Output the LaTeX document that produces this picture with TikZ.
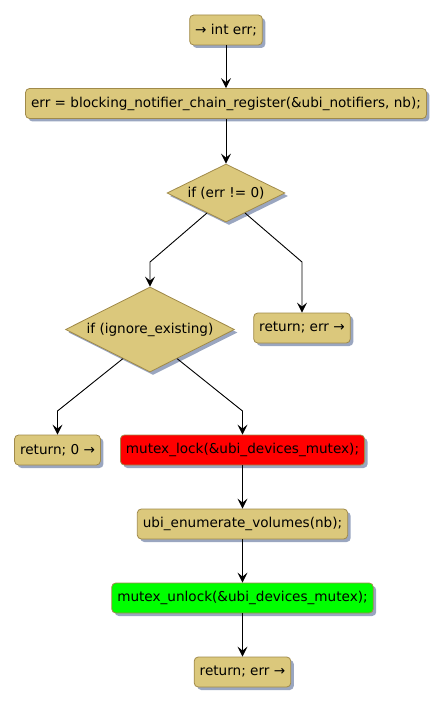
\documentclass[tikz,border=0pt]{standalone}
\usepackage{fontspec}
\setmainfont{DejaVu Sans}
\usetikzlibrary{shapes.geometric,arrows.meta,shadows,calc}
\definecolor{boxfill}{HTML}{DBC87C}
\definecolor{boxline}{HTML}{A08A4A}
\definecolor{shade}{HTML}{9AA6C0}
\tikzset{
  base/.style={draw=boxline, line width=0.8pt, fill=boxfill, font=\fontsize{13.6}{15}\selectfont, text=black,
    drop shadow={shadow xshift=3pt, shadow yshift=-3pt, fill=shade, opacity=1}},
  stepbox/.style={base, rounded corners=4pt, minimum height=30pt, inner xsep=5.5pt, inner ysep=0pt},
  cond/.style={base, diamond, aspect=2, inner sep=0pt},
  conn/.style={draw=black, line width=0.9pt, -{Stealth[length=10pt,width=10pt,inset=4pt]}},
}
\begin{document}
\begin{tikzpicture}[x=1pt,y=-1pt]
\useasboundingbox (0,0) rectangle (445,706);
\node[stepbox] (n1) at (226,30) {→ int err;};
\node[stepbox] (n2) at (226,103.5) {err = blocking\_notifier\_chain\_register(\&ubi\_notifiers, nb);};
\node[cond, minimum width=118pt, minimum height=58pt] (d1) at (226,193) {if (err != 0)};
\node[stepbox] (r1) at (302,328) {return; err →};
\node[cond, minimum width=169pt, minimum height=85pt] (d2) at (150,329.5) {if (ignore\_existing)};
\node[stepbox] (r0) at (57.5,450) {return; 0 →};
\node[stepbox, fill=red] (lock) at (242.5,450) {mutex\_lock(\&ubi\_devices\_mutex);};
\node[stepbox] (enum) at (242.5,524) {ubi\_enumerate\_volumes(nb);};
\node[stepbox, fill=green] (unlock) at (242.5,598) {mutex\_unlock(\&ubi\_devices\_mutex);};
\node[stepbox] (r2) at (242.5,672) {return; err →};
\coordinate (c1) at (150,262);
\coordinate (c2) at (302,262);
\coordinate (c3) at (57.5,411);
\coordinate (c4) at (242.5,411);
\coordinate (a1) at ($(d1.west)!0.68!(d1.south)$);
\coordinate (a2) at ($(d1.east)!0.68!(d1.south)$);
\coordinate (a3) at ($(d2.west)!0.68!(d2.south)$);
\coordinate (a4) at ($(d2.east)!0.68!(d2.south)$);
\draw[conn] (n1) -- (n2);
\draw[conn] (n2) -- (d1);
\draw[conn] (a1) -- (c1) -- (d2.north);
\draw[conn] (a2) -- (c2) -- (r1.north);
\draw[conn] (a3) -- (c3) -- (r0.north);
\draw[conn] (a4) -- (c4) -- (lock.north);
\draw[conn] (lock) -- (enum);
\draw[conn] (enum) -- (unlock);
\draw[conn] (unlock) -- (r2);
\end{tikzpicture}
\end{document}
